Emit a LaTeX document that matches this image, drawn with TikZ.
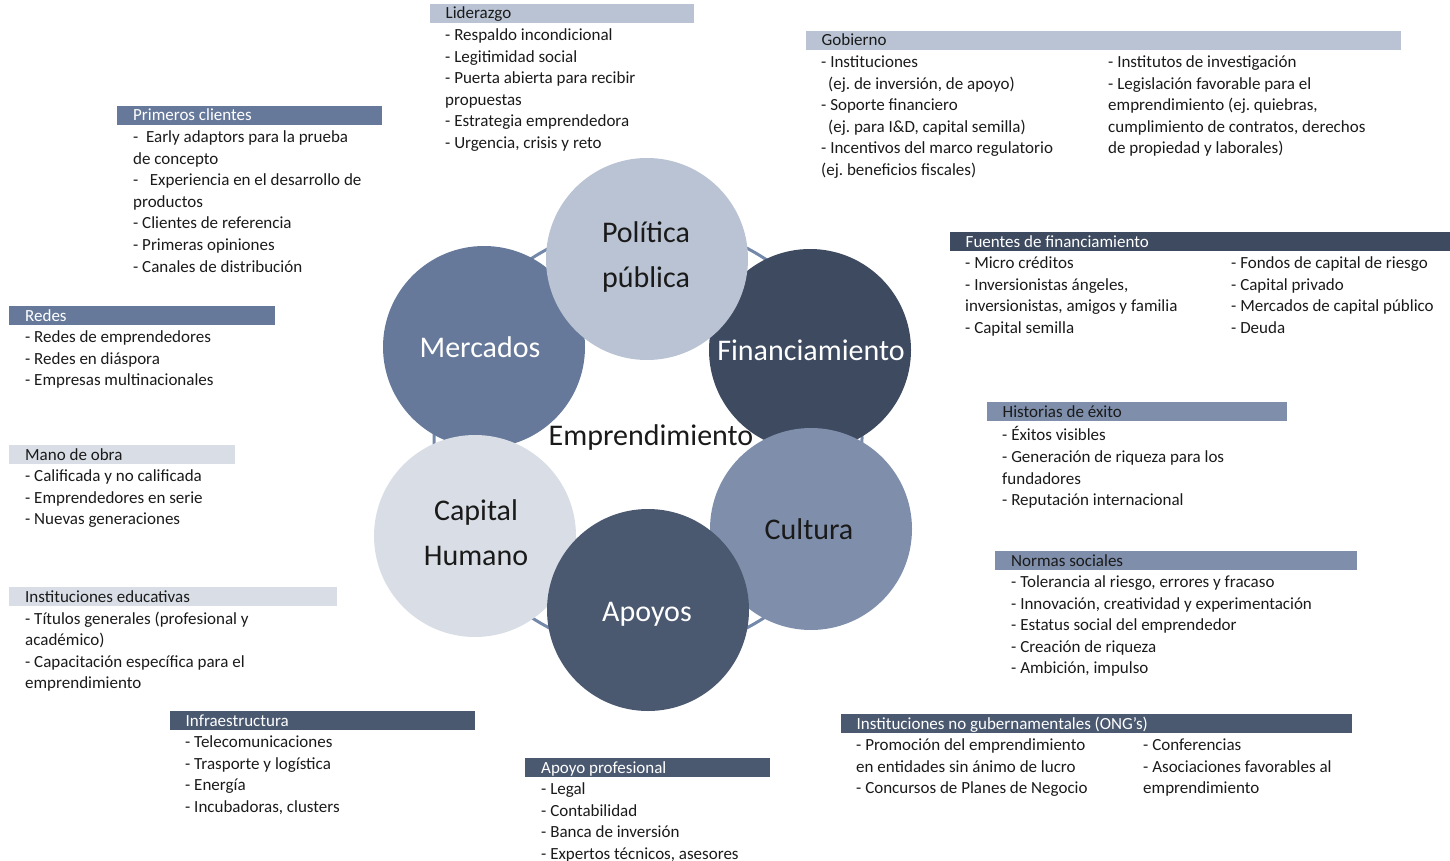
\documentclass[tikz,border=0pt]{standalone}
\usepackage{fontspec}
\setmainfont{Carlito}
\frenchspacing

% palette
\definecolor{claro}{HTML}{B9C3D3}
\definecolor{medio}{HTML}{66799A}
\definecolor{oscuro}{HTML}{3D4A5F}
\definecolor{medioclaro}{HTML}{7F8FAB}
\definecolor{pizarra}{HTML}{4A5870}
\definecolor{palido}{HTML}{D9DEE6}
\definecolor{anillo}{HTML}{7488AA}
\definecolor{texto}{HTML}{1A1A1A}

\tikzset{
	eje/.style={circle, minimum size=202pt, inner sep=0pt},
	rotulo/.style={align=center, inner sep=0pt, font=\fontsize{30}{45}\selectfont},
	titulo/.style={anchor=base west, inner sep=0pt, font=\fontsize{17}{20}\selectfont},
	lista/.style={anchor=north west, inner sep=0pt, align=left, text=texto, font=\fontsize{17}{21.6}\selectfont, execute at begin node=\strut, yshift=-4.5pt},
}

% header strip: x0, y0, x1, colour
\newcommand{\franja}[4]{\fill[#4] (#1,#2) rectangle (#3,#2+19);}

\begin{document}
\begin{tikzpicture}[x=1pt,y=-1pt]
	\useasboundingbox (0,0) rectangle (1450,861);
	%%%%%%%%%%%%%%%%%%%
	%      ring       %
	%%%%%%%%%%%%%%%%%%%
		\coordinate (centro) at (648,438);
		\draw[anillo, line width=3pt] (centro) circle (214);
		% circles, last one on top
		\foreach \nombre/\cx/\cy/\fondo/\tinta/\tx/\ty/\texto in {
				mercados/484/347/medio/white/480/347/Mercados,
				financiamiento/810/350/oscuro/white/811/350/Financiamiento,
				politica/647/259/claro/texto/646/257/{Política\\pública},
				cultura/811/529/medioclaro/texto/809/529/Cultura,
				capital/475/536/palido/texto/476/533/{Capital\\Humano},
				apoyos/648/610/pizarra/white/647/614/Apoyos}
			{
				\node[eje, fill=\fondo] (\nombre) at (\cx,\cy) {};
				\node[rotulo, text=\tinta] (\nombre-t) at (\tx,\ty) {\texto};
			}
		\node[font=\fontsize{30}{36}\selectfont, text=texto] (emprendimiento) at (651,437) {Emprendimiento};
	%%%%%%%%%%%%%%%%%%%
	%    top row      %
	%%%%%%%%%%%%%%%%%%%
		% Liderazgo
			\franja{430}{4}{694}{claro}
			\node[titulo, text=texto] (liderazgo) at (445.5,19) {Liderazgo};
			\node[lista] (liderazgoL) at (445,24) {- Respaldo incondicional\\- Legitimidad social\\- Puerta abierta para recibir\\propuestas\\- Estrategia emprendedora\\- Urgencia, crisis y reto};
		% Gobierno
			\franja{806}{31}{1401}{claro}
			\node[titulo, text=texto] (gobierno) at (821.5,46) {Gobierno};
			\node[lista] (gobiernoA) at (821,51) {- Instituciones\\\hspace*{7pt}(ej. de inversión, de apoyo)\\- Soporte financiero\\\hspace*{7pt}(ej. para I\&D, capital semilla)\\- Incentivos del marco regulatorio\\(ej. beneficios fiscales)};
			\node[lista] (gobiernoB) at (1108,51) {- Institutos de investigación\\- Legislación favorable para el\\emprendimiento (ej. quiebras,\\cumplimiento de contratos, derechos\\de propiedad y laborales)};
		% Primeros clientes
			\franja{117}{106}{382}{medio}
			\node[titulo, text=white] (clientes) at (133,121) {Primeros clientes};
			\node[lista] (clientesL) at (133,126) {-\ \ Early adaptors para la prueba\\de concepto\\-\ \ \ Experiencia en el desarrollo de\\productos\\- Clientes de referencia\\- Primeras opiniones\\- Canales de distribución};
	%%%%%%%%%%%%%%%%%%%
	%   right side    %
	%%%%%%%%%%%%%%%%%%%
		% Fuentes de financiamiento
			\franja{950}{232}{1450}{oscuro}
			\node[titulo, text=white] (fuentes) at (965.5,247) {Fuentes de financiamiento};
			\node[lista] (fuentesA) at (965,252) {- Micro créditos\\- Inversionistas ángeles,\\inversionistas, amigos y familia\\- Capital semilla};
			\node[lista] (fuentesB) at (1231,252) {- Fondos de capital de riesgo\\- Capital privado\\- Mercados de capital público\\- Deuda};
		% Historias de exito
			\franja{987}{402}{1287}{medioclaro}
			\node[titulo, text=texto] (historias) at (1002.5,417) {Historias de éxito};
			\node[lista] (historiasL) at (1002,422) {- Éxitos visibles\\- Generación de riqueza para los\\fundadores\\- Reputación internacional};
		% Normas sociales
			\franja{995}{551}{1357}{medioclaro}
			\node[titulo, text=texto] (normas) at (1011,566) {Normas sociales};
			\node[lista] (normasL) at (1011,571) {- Tolerancia al riesgo, errores y fracaso\\- Innovación, creatividad y experimentación\\- Estatus social del emprendedor\\- Creación de riqueza\\- Ambición, impulso};
		% ONG
			\franja{841}{714}{1352}{pizarra}
			\node[titulo, text=white] (ong) at (856.5,729) {Instituciones no gubernamentales (ONG’s)};
			\node[lista] (ongA) at (856,734) {- Promoción del emprendimiento\\en entidades sin ánimo de lucro\\- Concursos de Planes de Negocio};
			\node[lista] (ongB) at (1143,734) {- Conferencias\\- Asociaciones favorables al\\emprendimiento};
	%%%%%%%%%%%%%%%%%%%
	%    left side    %
	%%%%%%%%%%%%%%%%%%%
		% Redes
			\franja{9}{306}{275}{medio}
			\node[titulo, text=white] (redes) at (25,321) {Redes};
			\node[lista] (redesL) at (25,326) {- Redes de emprendedores\\- Redes en diáspora\\- Empresas multinacionales};
		% Mano de obra
			\franja{9}{445}{235}{palido}
			\node[titulo, text=texto] (mano) at (25,460) {Mano de obra};
			\node[lista] (manoL) at (25,465) {- Calificada y no calificada\\- Emprendedores en serie\\- Nuevas generaciones};
		% Instituciones educativas
			\franja{9}{587}{337}{palido}
			\node[titulo, text=texto] (educ) at (25,602) {Instituciones educativas};
			\node[lista] (educL) at (25,607) {- Títulos generales (profesional y\\académico)\\- Capacitación específica para el\\emprendimiento};
	%%%%%%%%%%%%%%%%%%%
	%     bottom      %
	%%%%%%%%%%%%%%%%%%%
		% Infraestructura
			\franja{170}{711}{475}{pizarra}
			\node[titulo, text=white] (infra) at (185.5,726) {Infraestructura};
			\node[lista] (infraL) at (185,731) {- Telecomunicaciones\\- Trasporte y logística\\- Energía\\- Incubadoras, clusters};
		% Apoyo profesional
			\franja{525}{758}{770}{pizarra}
			\node[titulo, text=white] (profesional) at (541,773) {Apoyo profesional};
			\node[lista] (profesionalL) at (541,778) {- Legal\\- Contabilidad\\- Banca de inversión\\- Expertos técnicos, asesores};
\end{tikzpicture}
\end{document}
